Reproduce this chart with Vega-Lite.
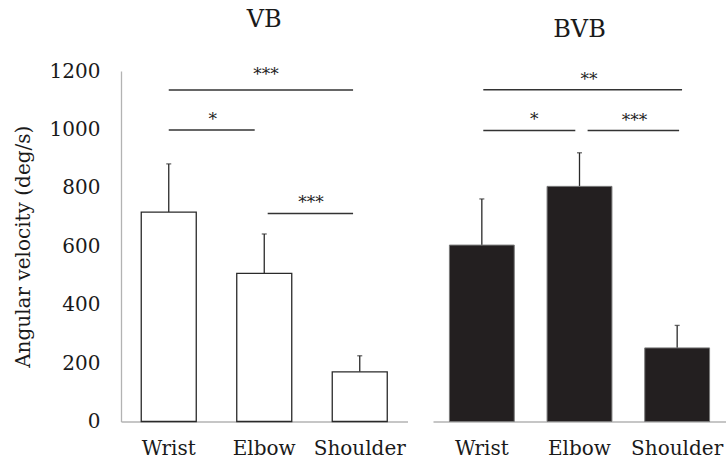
{
  "$schema": "https://vega.github.io/schema/vega-lite/v6.json",
  "padding": {"left": 13, "top": 8, "right": 0, "bottom": 0},
  "spacing": 25,
  "config": {
    "font": "DejaVu Serif",
    "view": {"stroke": null},
    "title": {"font": "DejaVu Serif", "fontSize": 24, "fontWeight": "normal", "color": "#1a1a1a", "offset": 29},
    "axis": {"labelFont": "DejaVu Serif", "titleFont": "DejaVu Serif", "labelFontSize": 20, "titleFontSize": 20, "titleFontWeight": "normal", "labelColor": "#1a1a1a", "titleColor": "#1a1a1a", "grid": false, "ticks": false, "domainColor": "#b3b3b3", "domainWidth": 1.3}
  },
  "datasets": {
    "bars": [
      {"group": "VB", "joint": "Wrist", "value": 717, "upper": 882},
      {"group": "VB", "joint": "Elbow", "value": 507, "upper": 642},
      {"group": "VB", "joint": "Shoulder", "value": 170, "upper": 225},
      {"group": "BVB", "joint": "Wrist", "value": 604, "upper": 762},
      {"group": "BVB", "joint": "Elbow", "value": 805, "upper": 920},
      {"group": "BVB", "joint": "Shoulder", "value": 252, "upper": 329}
    ],
    "sig": [
      {"group": "VB", "x1": 0.5, "x2": 2.43, "y": 1135, "label": "***", "lx": 1.518, "ly": 1199},
      {"group": "VB", "x1": 0.5, "x2": 1.4, "y": 998, "label": "*", "lx": 0.96, "ly": 1046},
      {"group": "VB", "x1": 1.536, "x2": 2.43, "y": 712, "label": "***", "lx": 1.99, "ly": 762},
      {"group": "BVB", "x1": 0.515, "x2": 2.55, "y": 1136, "label": "**", "lx": 1.597, "ly": 1184},
      {"group": "BVB", "x1": 0.515, "x2": 1.457, "y": 996, "label": "*", "lx": 1.037, "ly": 1046},
      {"group": "BVB", "x1": 1.583, "x2": 2.52, "y": 996, "label": "***", "lx": 2.064, "ly": 1043}
    ]
  },
  "hconcat": [
    {
      "width": 286.5,
      "height": 350.5,
      "title": {"text": "VB"},
      "layer": [
        {
          "data": {"name": "bars"},
          "transform": [{"filter": "datum.group === 'VB'"}],
          "encoding": {
            "x": {"field": "joint", "type": "nominal", "sort": ["Wrist", "Elbow", "Shoulder"], "scale": {"paddingInner": 0.424, "paddingOuter": 0.212}, "axis": {"title": null, "labelAngle": 0, "labelPadding": 17}}
          },
          "layer": [
            {"mark": {"type": "rule", "color": "#2a2a2a", "strokeWidth": 1.3},
             "encoding": {"y": {"field": "value", "type": "quantitative", "scale": {"domain": [0, 1200], "nice": false}, "axis": {"title": "Angular velocity (deg/s)", "values": [0, 200, 400, 600, 800, 1000, 1200], "format": "d", "labelPadding": 21, "titlePadding": 16}}, "y2": {"field": "upper"}}},
            {"mark": {"type": "tick", "orient": "horizontal", "size": 5, "thickness": 1.3, "color": "#2a2a2a"},
             "encoding": {"y": {"field": "upper", "type": "quantitative", "axis": {"title": "Angular velocity (deg/s)"}}}},
            {"mark": {"type": "bar", "fill": "#ffffff", "stroke": "#2a2a2a", "strokeWidth": 1.3},
             "encoding": {"y": {"field": "value", "type": "quantitative", "axis": {"title": "Angular velocity (deg/s)"}}}}
          ]
        },
        {
          "data": {"name": "sig"},
          "transform": [{"filter": "datum.group === 'VB'"}],
          "layer": [
            {"mark": {"type": "rule", "color": "#333333", "strokeWidth": 1.5},
             "encoding": {"x": {"field": "x1", "type": "quantitative", "scale": {"domain": [0, 3], "nice": false}, "axis": null}, "x2": {"field": "x2"}, "y": {"field": "y", "type": "quantitative", "axis": {"title": "Angular velocity (deg/s)"}}}},
            {"mark": {"type": "text", "fontSize": 17, "color": "#222222", "baseline": "middle", "dy": 4},
             "encoding": {"x": {"field": "lx", "type": "quantitative", "axis": null}, "y": {"field": "ly", "type": "quantitative", "axis": {"title": "Angular velocity (deg/s)"}}, "text": {"field": "label"}}}
          ]
        }
      ],
      "resolve": {"scale": {"x": "independent"}}
    },
    {
      "width": 293,
      "height": 350.5,
      "title": {"text": "BVB"},
      "layer": [
        {
          "data": {"name": "bars"},
          "transform": [{"filter": "datum.group === 'BVB'"}],
          "encoding": {
            "x": {"field": "joint", "type": "nominal", "sort": ["Wrist", "Elbow", "Shoulder"], "scale": {"paddingInner": 0.336, "paddingOuter": 0.168}, "axis": {"title": null, "labelAngle": 0, "labelPadding": 17}}
          },
          "layer": [
            {"mark": {"type": "rule", "color": "#2a2a2a", "strokeWidth": 1.3},
             "encoding": {"y": {"field": "value", "type": "quantitative", "scale": {"domain": [0, 1200], "nice": false}, "axis": null}, "y2": {"field": "upper"}}},
            {"mark": {"type": "tick", "orient": "horizontal", "size": 5, "thickness": 1.3, "color": "#2a2a2a"},
             "encoding": {"y": {"field": "upper", "type": "quantitative", "axis": null}}},
            {"mark": {"type": "bar", "fill": "#231f20", "stroke": "#7a7a7a", "strokeWidth": 1},
             "encoding": {"y": {"field": "value", "type": "quantitative", "axis": null}}}
          ]
        },
        {
          "data": {"name": "sig"},
          "transform": [{"filter": "datum.group === 'BVB'"}],
          "layer": [
            {"mark": {"type": "rule", "color": "#333333", "strokeWidth": 1.5},
             "encoding": {"x": {"field": "x1", "type": "quantitative", "scale": {"domain": [0, 3], "nice": false}, "axis": null}, "x2": {"field": "x2"}, "y": {"field": "y", "type": "quantitative", "axis": null}}},
            {"mark": {"type": "text", "fontSize": 17, "color": "#222222", "baseline": "middle", "dy": 4},
             "encoding": {"x": {"field": "lx", "type": "quantitative", "axis": null}, "y": {"field": "ly", "type": "quantitative", "axis": null}, "text": {"field": "label"}}}
          ]
        }
      ],
      "resolve": {"scale": {"x": "independent"}}
    }
  ]
}
